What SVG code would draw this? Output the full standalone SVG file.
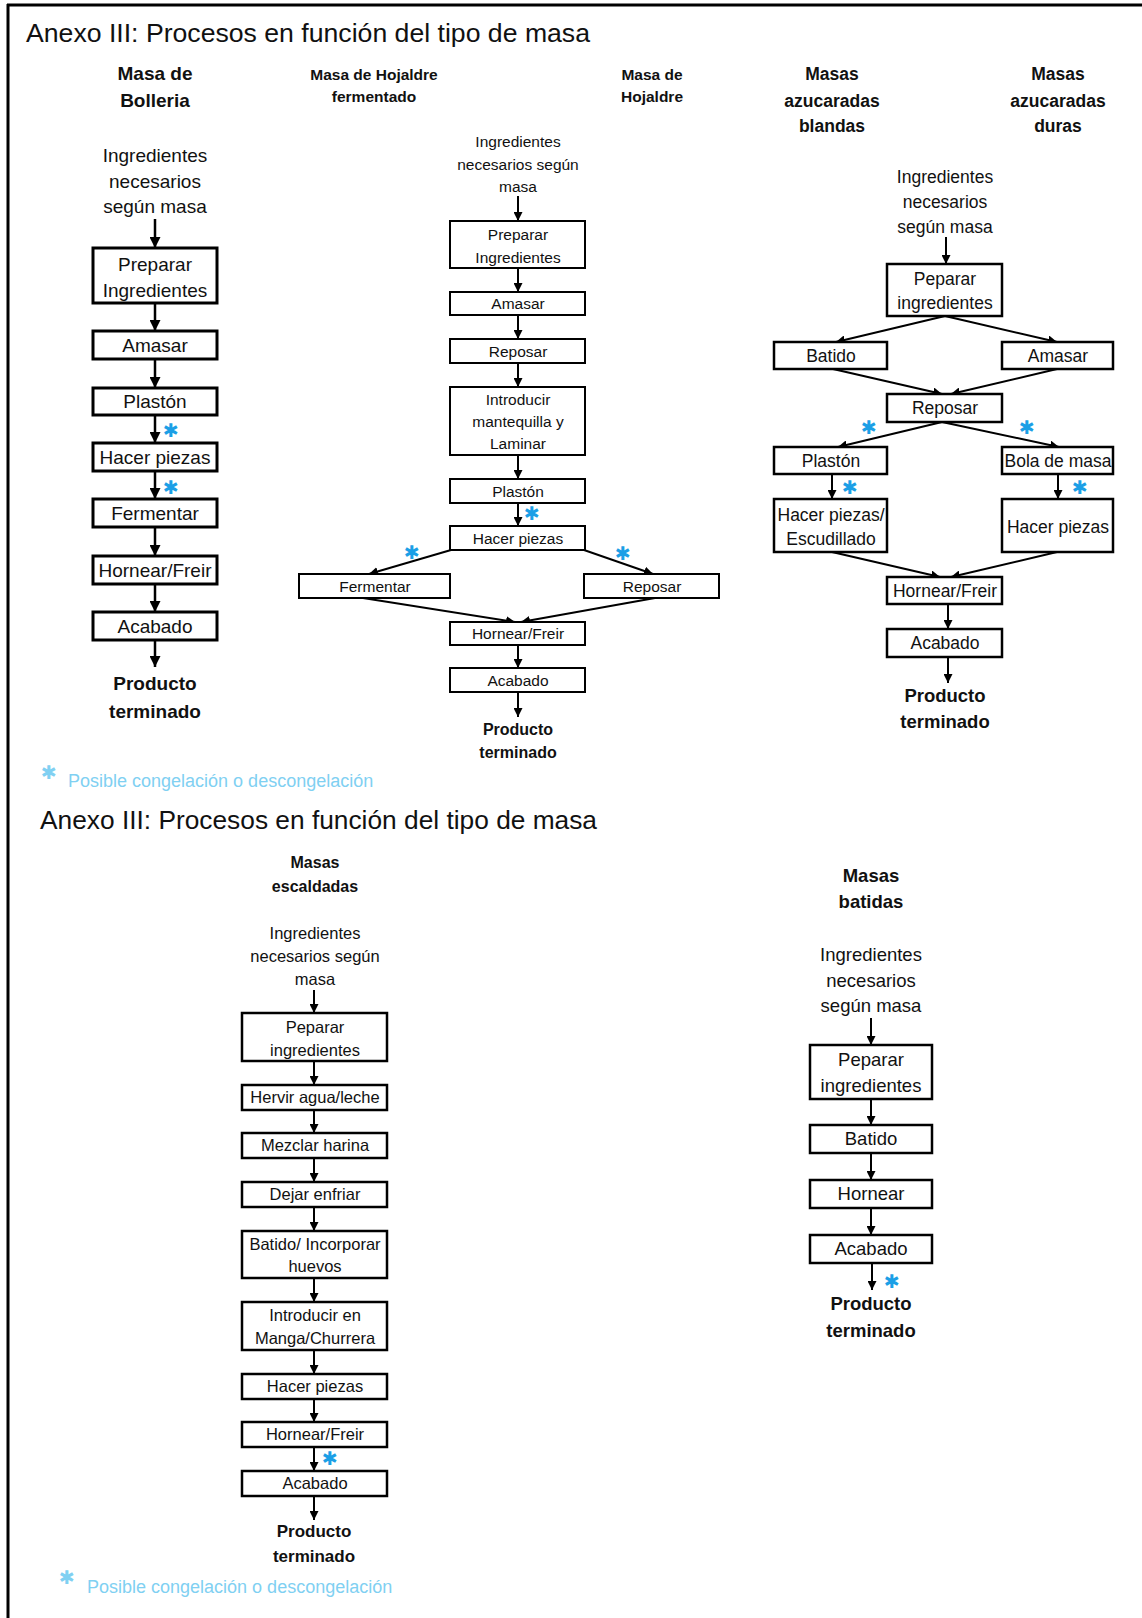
<svg xmlns="http://www.w3.org/2000/svg" width="1142" height="1618" viewBox="0 0 1142 1618">
<style>
text{font-family:"Liberation Sans",Arial,sans-serif;fill:#111;text-anchor:middle}
.title{font-size:25px;text-anchor:start}
.b{font-weight:bold}
.s19{font-size:19px}
.s185{font-size:18.5px}
.s175{font-size:17.5px}
.s17{font-size:17px}
.s165{font-size:16.5px}
.s16{font-size:16px}
.s155{font-size:15.5px}
.box{fill:#fff;stroke:#000;stroke-width:2.5}
.thin{stroke-width:2}
.thick{stroke-width:3}
.ln{stroke:#000;stroke-width:2;fill:none}
.lnt{stroke:#000;stroke-width:2.5;fill:none}
.ast{font-family:"DejaVu Sans",sans-serif;font-size:19px;font-weight:bold;fill:#1b9fe6;dominant-baseline:central}
.leg{font-size:18px;fill:#80d0f2;text-anchor:start}
.legast{font-family:"DejaVu Sans",sans-serif;font-size:19px;font-weight:bold;fill:#80d0f2;dominant-baseline:central}
</style>
<defs>
<marker id="ah" viewBox="0 0 10 10" refX="10" refY="5" markerWidth="9" markerHeight="9" markerUnits="userSpaceOnUse" orient="auto"><path d="M0,0 L10,5 L0,10 z" fill="#000"/></marker>
<marker id="ahb" viewBox="0 0 10 10" refX="10" refY="5" markerWidth="11" markerHeight="11" markerUnits="userSpaceOnUse" orient="auto"><path d="M0,0 L10,5 L0,10 z" fill="#000"/></marker>
</defs>
<rect width="1142" height="1618" fill="#fff"/>
<g id="frame">
<line x1="7" y1="5" x2="1142" y2="5" stroke="#000" stroke-width="3"/>
<line x1="8" y1="4" x2="8" y2="1618" stroke="#000" stroke-width="3"/>
</g>
<text class="title" x="26" y="42" textLength="564" lengthAdjust="spacingAndGlyphs">Anexo III: Procesos en función del tipo de masa</text>
<text class="title" x="40" y="829" textLength="557" lengthAdjust="spacingAndGlyphs">Anexo III: Procesos en función del tipo de masa</text>

<g id="headers">
<text class="b s19" x="155" y="80">Masa de</text>
<text class="b s19" x="155" y="107">Bolleria</text>
<text class="b s155" x="374" y="80">Masa de Hojaldre</text>
<text class="b s155" x="374" y="102">fermentado</text>
<text class="b s155" x="652" y="80">Masa de</text>
<text class="b s155" x="652" y="102">Hojaldre</text>
<text class="b s175" x="832" y="80">Masas</text>
<text class="b s175" x="832" y="107">azucaradas</text>
<text class="b s175" x="832" y="132">blandas</text>
<text class="b s175" x="1058" y="80">Masas</text>
<text class="b s175" x="1058" y="107">azucaradas</text>
<text class="b s175" x="1058" y="132">duras</text>
<text class="b s16" x="315" y="868">Masas</text>
<text class="b s16" x="315" y="892">escaldadas</text>
<text class="b s185" x="871" y="882">Masas</text>
<text class="b s185" x="871" y="908">batidas</text>
</g>

<g id="connectors">
<line class="lnt" x1="155" y1="219" x2="155" y2="248" marker-end="url(#ahb)"/>
<line class="lnt" x1="155" y1="303" x2="155" y2="331" marker-end="url(#ahb)"/>
<line class="lnt" x1="155" y1="359" x2="155" y2="388" marker-end="url(#ahb)"/>
<line class="lnt" x1="155" y1="415" x2="155" y2="443" marker-end="url(#ahb)"/>
<line class="lnt" x1="155" y1="471" x2="155" y2="499" marker-end="url(#ahb)"/>
<line class="lnt" x1="155" y1="527" x2="155" y2="556" marker-end="url(#ahb)"/>
<line class="lnt" x1="155" y1="584" x2="155" y2="612" marker-end="url(#ahb)"/>
<line class="lnt" x1="155" y1="640" x2="155" y2="667" marker-end="url(#ahb)"/>
<line class="ln" x1="518" y1="196" x2="518" y2="221" marker-end="url(#ah)"/>
<line class="ln" x1="518" y1="268" x2="518" y2="292" marker-end="url(#ah)"/>
<line class="ln" x1="518" y1="315" x2="518" y2="339" marker-end="url(#ah)"/>
<line class="ln" x1="518" y1="363" x2="518" y2="387" marker-end="url(#ah)"/>
<line class="ln" x1="518" y1="455" x2="518" y2="479" marker-end="url(#ah)"/>
<line class="ln" x1="518" y1="503" x2="518" y2="526" marker-end="url(#ah)"/>
<line class="ln" x1="451" y1="550" x2="369" y2="574" marker-end="url(#ah)"/>
<line class="ln" x1="584" y1="550" x2="653" y2="574" marker-end="url(#ah)"/>
<line class="ln" x1="363" y1="598" x2="515" y2="622" marker-end="url(#ah)"/>
<line class="ln" x1="655" y1="598" x2="521" y2="622" marker-end="url(#ah)"/>
<line class="ln" x1="518" y1="645" x2="518" y2="668" marker-end="url(#ah)"/>
<line class="ln" x1="518" y1="692" x2="518" y2="717" marker-end="url(#ah)"/>
<line class="ln" x1="946" y1="237" x2="946" y2="264" marker-end="url(#ah)"/>
<line class="ln" x1="945" y1="316" x2="836" y2="342" marker-end="url(#ah)"/>
<line class="ln" x1="945" y1="316" x2="1057" y2="342" marker-end="url(#ah)"/>
<line class="ln" x1="833" y1="369" x2="942" y2="394" marker-end="url(#ah)"/>
<line class="ln" x1="1057" y1="369" x2="951" y2="394" marker-end="url(#ah)"/>
<line class="ln" x1="942" y1="422" x2="838" y2="447" marker-end="url(#ah)"/>
<line class="ln" x1="942" y1="422" x2="1059" y2="447" marker-end="url(#ah)"/>
<line class="ln" x1="832" y1="474" x2="832" y2="499" marker-end="url(#ah)"/>
<line class="ln" x1="1058" y1="474" x2="1058" y2="499" marker-end="url(#ah)"/>
<line class="ln" x1="832" y1="552" x2="940" y2="577" marker-end="url(#ah)"/>
<line class="ln" x1="1057" y1="552" x2="951" y2="577" marker-end="url(#ah)"/>
<line class="ln" x1="948" y1="604" x2="948" y2="629" marker-end="url(#ah)"/>
<line class="ln" x1="948" y1="657" x2="948" y2="683" marker-end="url(#ah)"/>
<line class="ln" x1="314" y1="990" x2="314" y2="1013" marker-end="url(#ah)"/>
<line class="ln" x1="314" y1="1061" x2="314" y2="1085" marker-end="url(#ah)"/>
<line class="ln" x1="314" y1="1110" x2="314" y2="1133" marker-end="url(#ah)"/>
<line class="ln" x1="314" y1="1158" x2="314" y2="1182" marker-end="url(#ah)"/>
<line class="ln" x1="314" y1="1207" x2="314" y2="1231" marker-end="url(#ah)"/>
<line class="ln" x1="314" y1="1278" x2="314" y2="1302" marker-end="url(#ah)"/>
<line class="ln" x1="314" y1="1350" x2="314" y2="1374" marker-end="url(#ah)"/>
<line class="ln" x1="314" y1="1399" x2="314" y2="1422" marker-end="url(#ah)"/>
<line class="ln" x1="314" y1="1447" x2="314" y2="1471" marker-end="url(#ah)"/>
<line class="ln" x1="314" y1="1496" x2="314" y2="1520" marker-end="url(#ah)"/>
<line class="ln" x1="871" y1="1018" x2="871" y2="1045" marker-end="url(#ah)"/>
<line class="ln" x1="871" y1="1099" x2="871" y2="1125" marker-end="url(#ah)"/>
<line class="ln" x1="871" y1="1153" x2="871" y2="1180" marker-end="url(#ah)"/>
<line class="ln" x1="871" y1="1208" x2="871" y2="1235" marker-end="url(#ah)"/>
<line class="ln" x1="872" y1="1263" x2="872" y2="1290" marker-end="url(#ah)"/>
</g>

<g id="bol-ing"><text class="s19" x="155" y="162">Ingredientes</text><text class="s19" x="155" y="188">necesarios</text><text class="s19" x="155" y="213">según masa</text></g>
<g id="bol-prep"><rect class="box thick" x="93" y="248" width="124" height="55"/><text class="s19" x="155" y="271">Preparar</text><text class="s19" x="155" y="297">Ingredientes</text></g>
<g id="bol-amasar"><rect class="box thick" x="93" y="331" width="124" height="28"/><text class="s19" x="155" y="352">Amasar</text></g>
<g id="bol-plaston"><rect class="box thick" x="93" y="388" width="124" height="27"/><text class="s19" x="155" y="408">Plastón</text></g>
<g id="bol-hacer"><rect class="box thick" x="93" y="443" width="124" height="28"/><text class="s19" x="155" y="464">Hacer piezas</text></g>
<g id="bol-ferm"><rect class="box thick" x="93" y="499" width="124" height="28"/><text class="s19" x="155" y="520">Fermentar</text></g>
<g id="bol-horn"><rect class="box thick" x="93" y="556" width="124" height="28"/><text class="s19" x="155" y="577">Hornear/Freir</text></g>
<g id="bol-acab"><rect class="box thick" x="93" y="612" width="124" height="28"/><text class="s19" x="155" y="633">Acabado</text></g>
<g id="bol-prod"><text class="b s19" x="155" y="690">Producto</text><text class="b s19" x="155" y="718">terminado</text></g>
<g id="bol-ast"><text class="ast" x="171" y="430">✱</text><text class="ast" x="171" y="487">✱</text></g>

<g id="hoj-ing"><text class="s155" x="518" y="147">Ingredientes</text><text class="s155" x="518" y="170">necesarios según</text><text class="s155" x="518" y="192">masa</text></g>
<g id="hoj-prep"><rect class="box thin" x="450" y="221" width="135" height="47"/><text class="s155" x="518" y="240">Preparar</text><text class="s155" x="518" y="263">Ingredientes</text></g>
<g id="hoj-amasar"><rect class="box thin" x="450" y="292" width="135" height="23"/><text class="s155" x="518" y="309">Amasar</text></g>
<g id="hoj-reposar"><rect class="box thin" x="450" y="339" width="135" height="24"/><text class="s155" x="518" y="357">Reposar</text></g>
<g id="hoj-intro"><rect class="box thin" x="450" y="387" width="135" height="68"/><text class="s155" x="518" y="405">Introducir</text><text class="s155" x="518" y="427">mantequilla y</text><text class="s155" x="518" y="449">Laminar</text></g>
<g id="hoj-plaston"><rect class="box thin" x="450" y="479" width="135" height="24"/><text class="s155" x="518" y="497">Plastón</text></g>
<g id="hoj-hacer"><rect class="box thin" x="450" y="526" width="135" height="24"/><text class="s155" x="518" y="544">Hacer piezas</text></g>
<g id="hoj-ferm"><rect class="box thin" x="299" y="574" width="151" height="24"/><text class="s155" x="375" y="592">Fermentar</text></g>
<g id="hoj-rep2"><rect class="box thin" x="584" y="574" width="135" height="24"/><text class="s155" x="652" y="592">Reposar</text></g>
<g id="hoj-horn"><rect class="box thin" x="450" y="622" width="135" height="23"/><text class="s155" x="518" y="639">Hornear/Freir</text></g>
<g id="hoj-acab"><rect class="box thin" x="450" y="668" width="135" height="24"/><text class="s155" x="518" y="686">Acabado</text></g>
<g id="hoj-prod"><text class="b s16" x="518" y="735">Producto</text><text class="b s16" x="518" y="758">terminado</text></g>
<g id="hoj-ast"><text class="ast" x="532" y="513">✱</text><text class="ast" x="412" y="552">✱</text><text class="ast" x="623" y="553">✱</text></g>

<g id="az-ing"><text class="s175" x="945" y="183">Ingredientes</text><text class="s175" x="945" y="208">necesarios</text><text class="s175" x="945" y="233">según masa</text></g>
<g id="az-prep"><rect class="box" x="887" y="264" width="115" height="52"/><text class="s175" x="945" y="285">Peparar</text><text class="s175" x="945" y="309">ingredientes</text></g>
<g id="az-batido"><rect class="box" x="774" y="342" width="113" height="27"/><text class="s175" x="831" y="362">Batido</text></g>
<g id="az-amasar"><rect class="box" x="1002" y="342" width="111" height="27"/><text class="s175" x="1058" y="362">Amasar</text></g>
<g id="az-reposar"><rect class="box" x="887" y="394" width="115" height="28"/><text class="s175" x="945" y="414">Reposar</text></g>
<g id="az-plaston"><rect class="box" x="774" y="447" width="113" height="27"/><text class="s175" x="831" y="467">Plastón</text></g>
<g id="az-bola"><rect class="box" x="1002" y="447" width="111" height="27"/><text class="s175" x="1058" y="467">Bola de masa</text></g>
<g id="az-hacer1"><rect class="box" x="774" y="499" width="113" height="53"/><text class="s175" x="831" y="521">Hacer piezas/</text><text class="s175" x="831" y="545">Escudillado</text></g>
<g id="az-hacer2"><rect class="box" x="1002" y="499" width="111" height="53"/><text class="s175" x="1058" y="533">Hacer piezas</text></g>
<g id="az-horn"><rect class="box" x="887" y="577" width="115" height="27"/><text class="s175" x="945" y="597">Hornear/Freir</text></g>
<g id="az-acab"><rect class="box" x="887" y="629" width="115" height="28"/><text class="s175" x="945" y="649">Acabado</text></g>
<g id="az-prod"><text class="b s185" x="945" y="702">Producto</text><text class="b s185" x="945" y="728">terminado</text></g>
<g id="az-ast"><text class="ast" x="869" y="427">✱</text><text class="ast" x="1027" y="427">✱</text><text class="ast" x="850" y="487">✱</text><text class="ast" x="1080" y="487">✱</text></g>

<g id="legend1"><text class="legast" x="49" y="772">✱</text><text class="leg" x="68" y="787">Posible congelación o descongelación</text></g>

<g id="esc-ing"><text class="s165" x="315" y="939">Ingredientes</text><text class="s165" x="315" y="962">necesarios según</text><text class="s165" x="315" y="985">masa</text></g>
<g id="esc-prep"><rect class="box" x="242" y="1013" width="145" height="48"/><text class="s165" x="315" y="1033">Peparar</text><text class="s165" x="315" y="1056">ingredientes</text></g>
<g id="esc-hervir"><rect class="box" x="242" y="1085" width="145" height="25"/><text class="s165" x="315" y="1103">Hervir agua/leche</text></g>
<g id="esc-mezclar"><rect class="box" x="242" y="1133" width="145" height="25"/><text class="s165" x="315" y="1151">Mezclar harina</text></g>
<g id="esc-dejar"><rect class="box" x="242" y="1182" width="145" height="25"/><text class="s165" x="315" y="1200">Dejar enfriar</text></g>
<g id="esc-batido"><rect class="box" x="242" y="1231" width="145" height="47"/><text class="s165" x="315" y="1250">Batido/ Incorporar</text><text class="s165" x="315" y="1272">huevos</text></g>
<g id="esc-intro"><rect class="box" x="242" y="1302" width="145" height="48"/><text class="s165" x="315" y="1321">Introducir en</text><text class="s165" x="315" y="1344">Manga/Churrera</text></g>
<g id="esc-hacer"><rect class="box" x="242" y="1374" width="145" height="25"/><text class="s165" x="315" y="1392">Hacer piezas</text></g>
<g id="esc-horn"><rect class="box" x="242" y="1422" width="145" height="25"/><text class="s165" x="315" y="1440">Hornear/Freir</text></g>
<g id="esc-acab"><rect class="box" x="242" y="1471" width="145" height="25"/><text class="s165" x="315" y="1489">Acabado</text></g>
<g id="esc-prod"><text class="b s17" x="314" y="1537">Producto</text><text class="b s17" x="314" y="1562">terminado</text></g>
<g id="esc-ast"><text class="ast" x="330" y="1458">✱</text></g>

<g id="legend2"><text class="legast" x="67" y="1577">✱</text><text class="leg" x="87" y="1593">Posible congelación o descongelación</text></g>

<g id="bat-ing"><text class="s185" x="871" y="961">Ingredientes</text><text class="s185" x="871" y="987">necesarios</text><text class="s185" x="871" y="1012">según masa</text></g>
<g id="bat-prep"><rect class="box" x="810" y="1045" width="122" height="54"/><text class="s185" x="871" y="1066">Peparar</text><text class="s185" x="871" y="1092">ingredientes</text></g>
<g id="bat-batido"><rect class="box" x="810" y="1125" width="122" height="28"/><text class="s185" x="871" y="1145">Batido</text></g>
<g id="bat-horn"><rect class="box" x="810" y="1180" width="122" height="28"/><text class="s185" x="871" y="1200">Hornear</text></g>
<g id="bat-acab"><rect class="box" x="810" y="1235" width="122" height="28"/><text class="s185" x="871" y="1255">Acabado</text></g>
<g id="bat-prod"><text class="b s185" x="871" y="1310">Producto</text><text class="b s185" x="871" y="1337">terminado</text></g>
<g id="bat-ast"><text class="ast" x="892" y="1281">✱</text></g>
</svg>
